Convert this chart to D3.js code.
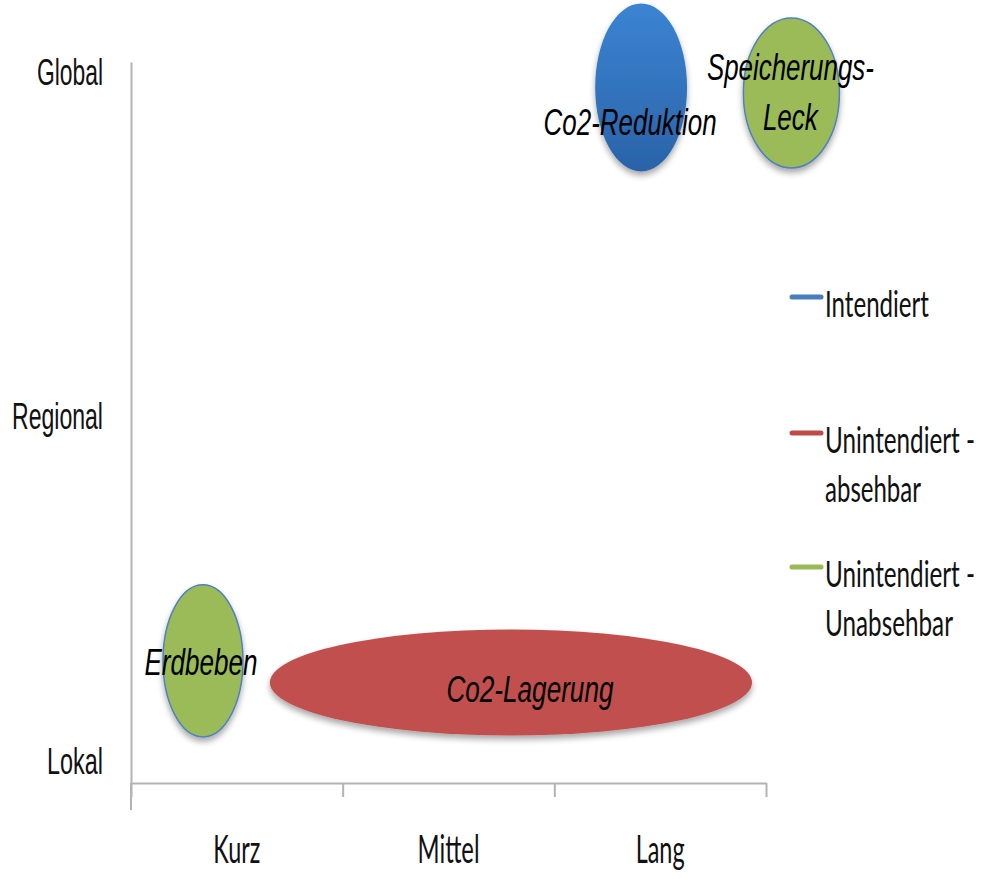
<!DOCTYPE html>
<html>
<head>
<meta charset="utf-8">
<script src="https://cdn.jsdelivr.net/npm/d3@7"></script>
<style>
  html, body { margin: 0; padding: 0; background: #fff; }
  svg { display: block; }
</style>
</head>
<body>
<svg id="chart" width="990" height="879"></svg>
<script>
// Time horizon (x) and spatial scope (y) categories
const timeCategories = ["Kurz", "Mittel", "Lang"];
const scopeCategories = ["Lokal", "Regional", "Global"];

// Legend series
const seriesNames = ["Intendiert", "Unintendiert - absehbar", "Unintendiert - Unabsehbar"];
const seriesColors = ["#4a7ebb", "#be4b48", "#98b954"];

// Effects: centre on the time axis (0..3) and scope axis (1..3), half-extents in the same units
const effectNames = ["Co2-Reduktion", "Speicherungs-Leck", "Erdbeben", "Co2-Lagerung"];
const effectTime = [2.41, 3.12, 0.34, 1.795];
const effectScope = [2.956, 2.94, 1.29, 1.227];
const effectTimeSpan = [0.217, 0.227, 0.189, 1.139];
const effectScopeSpan = [0.244, 0.218, 0.221, 0.154];
const effectSeries = [0, 2, 2, 1];

const svg = d3.select("#chart");

const x = d3.scaleLinear().domain([0, 3]).range([131, 766]);
const y = d3.scaleLinear().domain([0.935, 3.03]).range([783, 62]);
const pxPerX = x(1) - x(0);
const pxPerY = y(1) - y(2);

const defs = svg.append("defs");
const blueGrad = defs.append("linearGradient").attr("id", "blueFill")
  .attr("x1", 0).attr("y1", 0).attr("x2", 0).attr("y2", 1);
blueGrad.append("stop").attr("offset", "0%").attr("stop-color", "#3b84d3");
blueGrad.append("stop").attr("offset", "100%").attr("stop-color", "#2a63a8");

const shadow = defs.append("filter").attr("id", "shadow")
  .attr("x", "-20%").attr("y", "-20%").attr("width", "140%").attr("height", "150%");
shadow.append("feGaussianBlur").attr("in", "SourceAlpha").attr("stdDeviation", 3);
shadow.append("feOffset").attr("dx", 0).attr("dy", 4).attr("result", "off");
shadow.append("feComponentTransfer").append("feFuncA").attr("type", "linear").attr("slope", 0.35);
const merge = shadow.append("feMerge");
merge.append("feMergeNode");
merge.append("feMergeNode").attr("in", "SourceGraphic");

const fills = ["url(#blueFill)", "#c0504d", "#9bbb59"];

// Axes
const axisColor = "#b3b3b3";
const xAxis = svg.append("g").attr("transform", `translate(0,${y.range()[0]})`)
  .call(d3.axisBottom(x).tickValues([0, 1, 2, 3]).tickSize(14).tickSizeOuter(0).tickFormat(""));
xAxis.selectAll("path,line").attr("stroke", axisColor).attr("stroke-width", 2);

const yAxis = svg.append("g").attr("transform", `translate(${x(0)},0)`)
  .call(d3.axisLeft(y).tickValues([]).tickSizeOuter(0));
yAxis.selectAll("path").attr("stroke", axisColor).attr("stroke-width", 2);
svg.append("line")
  .attr("x1", x(0)).attr("x2", x(0))
  .attr("y1", y.range()[0]).attr("y2", y.range()[0] + 27)
  .attr("stroke", axisColor).attr("stroke-width", 2);

// Category labels
const narrow = { "Lokal": 56, "Regional": 91, "Global": 66, "Kurz": 47, "Mittel": 62, "Lang": 49 };
svg.append("g").selectAll("text").data(scopeCategories).join("text")
  .attr("x", 103).attr("y", (d, i) => y(i + 1) + 13)
  .attr("text-anchor", "end")
  .attr("font-family", "'Liberation Sans', Arial, sans-serif")
  .attr("font-size", 37).attr("fill", "#111")
  .attr("textLength", d => narrow[d]).attr("lengthAdjust", "spacingAndGlyphs")
  .text(d => d);

svg.append("g").selectAll("text").data(timeCategories).join("text")
  .attr("x", (d, i) => x(i + 0.5)).attr("y", 863)
  .attr("text-anchor", "middle")
  .attr("font-family", "Lato, 'Open Sans', sans-serif")
  .attr("font-size", 38).attr("fill", "#111")
  .attr("textLength", d => narrow[d]).attr("lengthAdjust", "spacingAndGlyphs")
  .text(d => d);

// Effect ellipses
const effects = effectNames.map((name, i) => ({
  name, t: effectTime[i], s: effectScope[i],
  rt: effectTimeSpan[i], rs: effectScopeSpan[i], series: effectSeries[i]
}));

svg.append("g").selectAll("ellipse").data(effects).join("ellipse")
  .attr("cx", d => x(d.t)).attr("cy", d => y(d.s))
  .attr("rx", d => d.rt * pxPerX).attr("ry", d => d.rs * pxPerY)
  .attr("fill", d => fills[d.series])
  .attr("stroke", d => d.series === 2 ? "#4f81bd" : "none")
  .attr("stroke-width", 1.5)
  .attr("filter", "url(#shadow)");

// Effect labels (lines, horizontal nudge, baseline offsets from centre, fitted widths)
const labelLayout = {
  "Co2-Reduktion": { lines: ["Co2-Reduktion"], dx: -11, dy: [48], w: [173] },
  "Speicherungs-Leck": { lines: ["Speicherungs-", "Leck"], dx: -1, dy: [-13, 37], w: [167, 55] },
  "Erdbeben": { lines: ["Erdbeben"], dx: -2, dy: [14], w: [113] },
  "Co2-Lagerung": { lines: ["Co2-Lagerung"], dx: 19, dy: [19], w: [167] }
};
const labelRows = effects.flatMap(d => {
  const L = labelLayout[d.name];
  return L.lines.map((line, k) => ({
    text: line, cx: x(d.t) + L.dx, cy: y(d.s) + L.dy[k], w: L.w[k]
  }));
});
svg.append("g").selectAll("text").data(labelRows).join("text")
  .attr("x", d => d.cx).attr("y", d => d.cy)
  .attr("text-anchor", "middle")
  .attr("font-family", "'Liberation Sans', Arial, sans-serif")
  .attr("font-style", "italic")
  .attr("font-size", 37).attr("fill", "#000")
  .attr("textLength", d => d.w).attr("lengthAdjust", "spacingAndGlyphs")
  .text(d => d.text);

// Legend
const legendY = [297, 433, 567];
const legendLines = [["Intendiert"], ["Unintendiert -", "absehbar"], ["Unintendiert -", "Unabsehbar"]];
const legendW = { "Intendiert": 104, "Unintendiert -": 150, "absehbar": 96, "Unabsehbar": 128 };
const legend = svg.append("g");
seriesNames.forEach((name, i) => {
  legend.append("line")
    .attr("x1", 792).attr("x2", 821)
    .attr("y1", legendY[i]).attr("y2", legendY[i])
    .attr("stroke", seriesColors[i]).attr("stroke-width", 5)
    .attr("stroke-linecap", "round");
  legendLines[i].forEach((line, k) => {
    legend.append("text")
      .attr("x", 825).attr("y", legendY[i] + 20 + k * 49)
      .attr("font-family", "Lato, 'Open Sans', sans-serif")
      .attr("font-size", 37).attr("fill", "#111")
      .attr("textLength", legendW[line]).attr("lengthAdjust", "spacingAndGlyphs")
      .text(line);
  });
});
</script>
</body>
</html>
